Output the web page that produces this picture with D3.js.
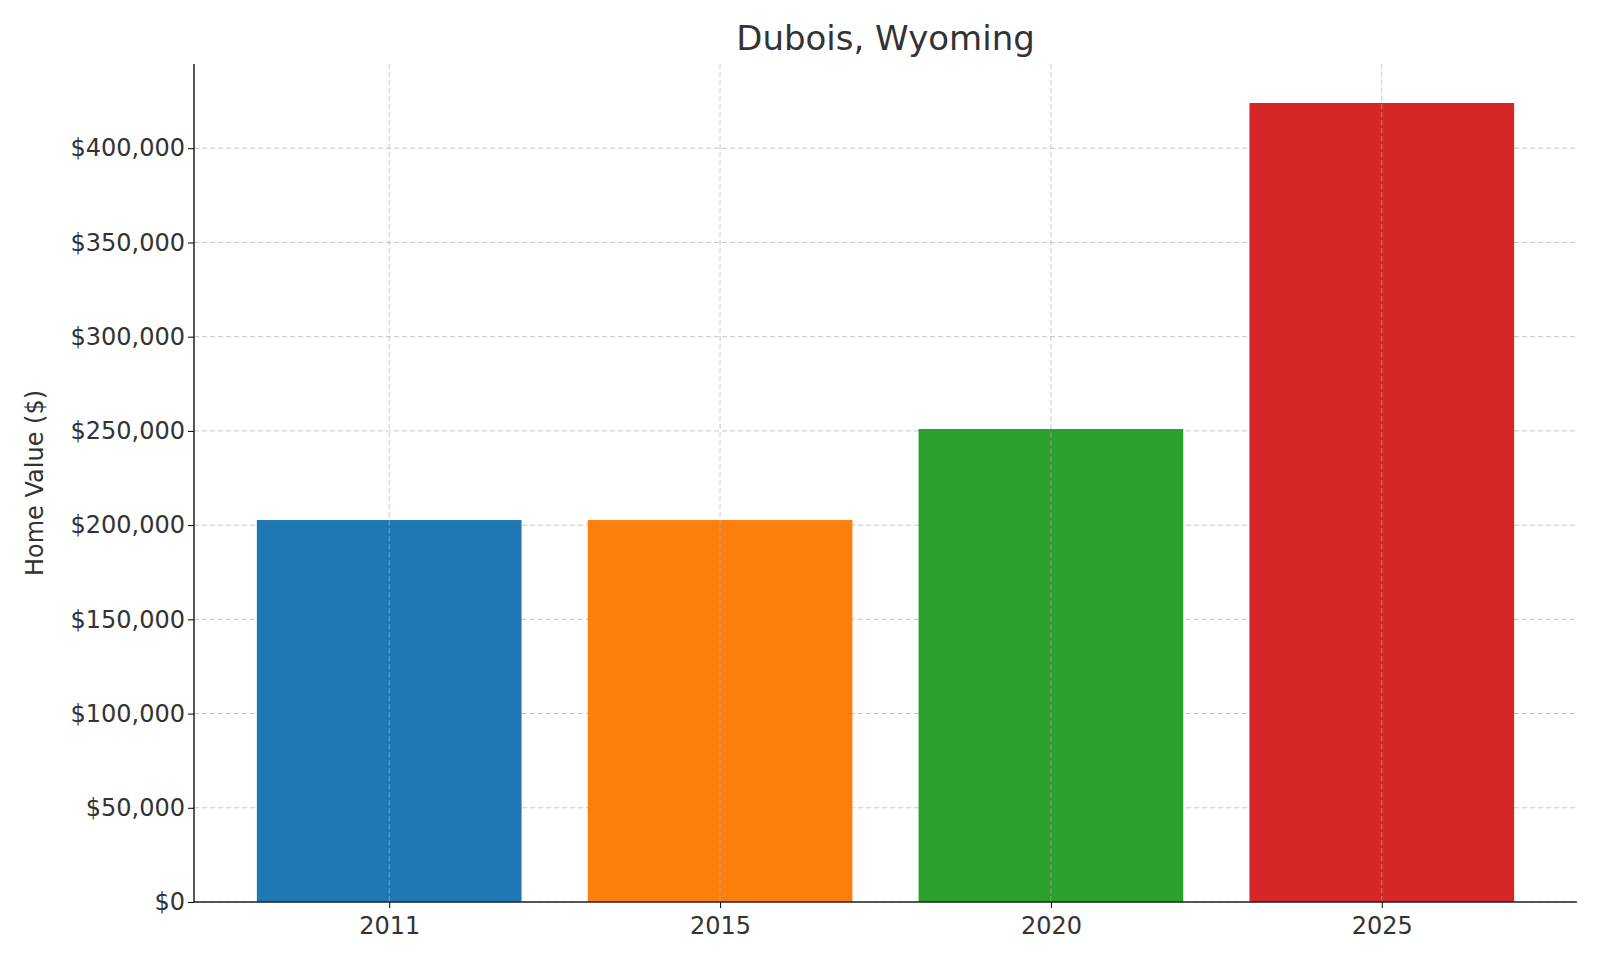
<!DOCTYPE html>
<html><head><meta charset="utf-8">
<script src="https://cdn.jsdelivr.net/npm/d3@7"></script>
<style>body{margin:0;background:#fff}svg{font-family:"DejaVu Sans",sans-serif}</style>
</head><body><svg id="c" width="1600" height="960"></svg>
<script>
const years = ["2011","2015","2020","2025"];
const values = [202700, 202700, 251000, 424000];
const colors = ["#1f77b4","#ff7f0e","#2ca02c","#d62728"];
const yTicks = [0,50000,100000,150000,200000,250000,300000,350000,400000];

const svg = d3.select("#c");
const L=194,R=1577,T=64,B=902;
const x = d3.scaleLinear().domain([-0.59, 3.59]).range([L,R]);
const y = d3.scaleLinear().domain([0, 444700]).range([B,T]);
const bw = x(0.8)-x(0);

const g = svg.append("g");
g.selectAll(".hg").data(yTicks).join("line")
 .attr("x1",L).attr("x2",R).attr("y1",d=>y(d)).attr("y2",d=>y(d))
 .attr("stroke","#b0b0b0").attr("stroke-width",1).attr("stroke-dasharray","5,3").attr("opacity",0.7);
g.selectAll("rect").data(values).join("rect")
 .attr("x",(d,i)=>x(i)-bw/2).attr("width",bw)
 .attr("y",d=>y(d)).attr("height",d=>B-y(d)).attr("fill",(d,i)=>colors[i]);
g.selectAll(".vg").data(years).join("line")
 .attr("x1",(d,i)=>x(i)).attr("x2",(d,i)=>x(i)).attr("y1",T).attr("y2",B)
 .attr("stroke","#b0b0b0").attr("stroke-width",1).attr("stroke-dasharray","5,3").attr("opacity",0.7);

const fmt = d=>"$"+d3.format(",")(d);
const ya = svg.append("g").attr("transform",`translate(${L},0)`)
 .call(d3.axisLeft(y).tickValues(yTicks).tickFormat(fmt).tickSize(6));
ya.select(".domain").attr("d",`M0,${T}V${B}`).attr("stroke","#222").attr("stroke-width",1.5);
ya.selectAll("text").attr("font-size",24).attr("fill","#333").attr("font-family","DejaVu Sans");

const xa = svg.append("g").attr("transform",`translate(0,${B})`)
 .call(d3.axisBottom(x).tickValues([0,1,2,3]).tickFormat(i=>years[i]).tickSize(6));
xa.select(".domain").attr("d",`M${L},0H${R}`).attr("stroke","#222").attr("stroke-width",1.5);
xa.selectAll("text").attr("font-size",24).attr("fill","#333").attr("dy","0.95em").attr("font-family","DejaVu Sans");

svg.append("text").attr("x",(L+R)/2).attr("y",50).attr("text-anchor","middle")
 .attr("font-size",34).attr("fill","#333").text("Dubois, Wyoming");
svg.append("text").attr("transform",`translate(43,${(T+B)/2}) rotate(-90)`).attr("text-anchor","middle")
 .attr("font-size",24).attr("fill","#333").text("Home Value ($)");
</script></body></html>
